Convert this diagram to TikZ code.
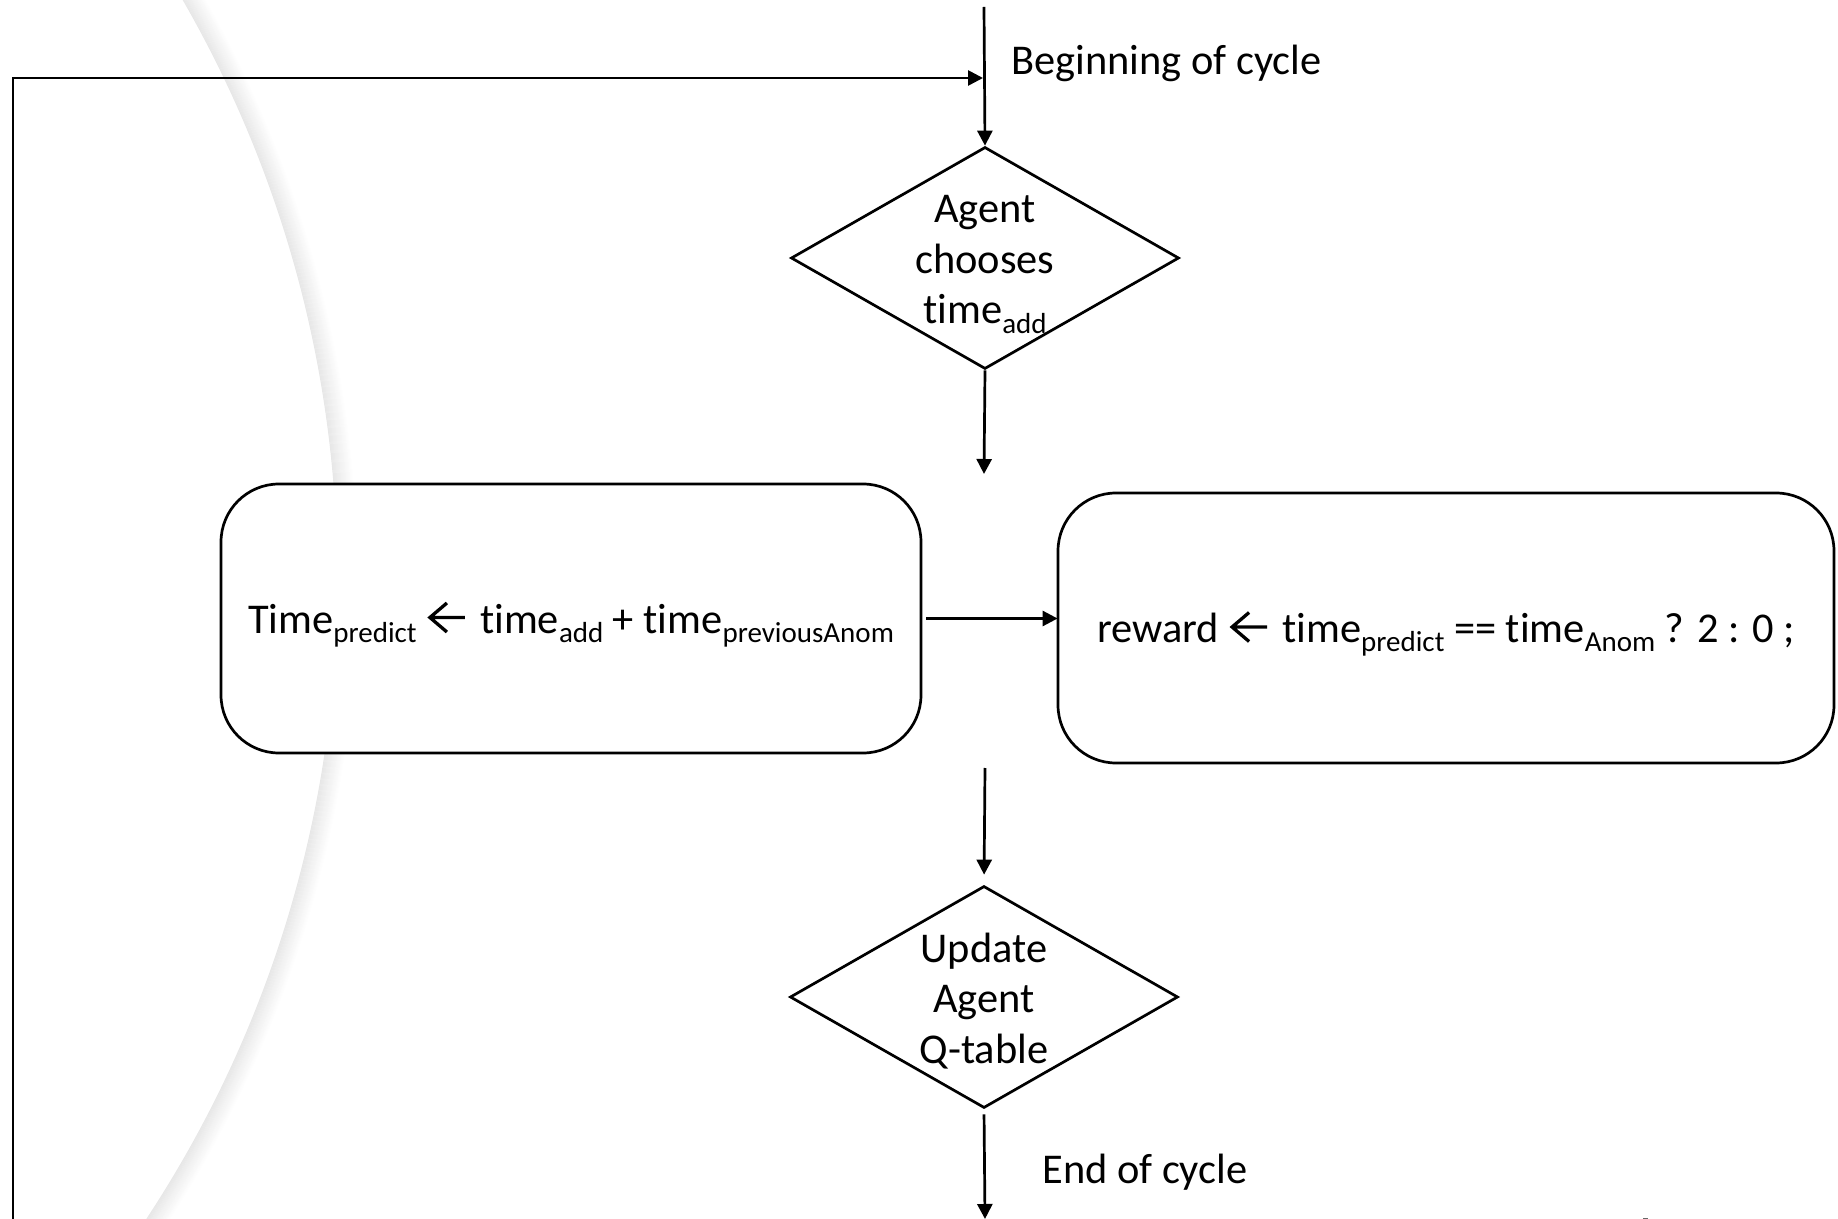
\documentclass[tikz,border=0pt]{standalone}
\usepackage{fontspec}
\setmainfont{Carlito}[Ligatures={NoCommon,NoContextual},Contextuals=NoAlternate]
\usetikzlibrary{arrows.meta,shapes.geometric}

% lowered index text, as used for the time variables
\newcommand\lowidx[1]{\raisebox{-4.6pt}{\fontsize{14.5pt}{14.5pt}\selectfont #1}}
% assignment arrow with an open chevron head
\newcommand\getsarrow{\hspace{1pt}\begin{tikzpicture}[x=1pt,y=1pt,baseline=0pt,
    sharp corners,line width=1.65pt,line cap=butt,line join=miter]
  \draw (17.5,7.75) -- (0,7.75) (8.5,15) -- (0,7.75) -- (8.5,0.5);
\end{tikzpicture}\hspace{2pt}}

\begin{document}
\begin{tikzpicture}[x=0.5pt,y=-0.5pt,line width=1.35pt,
  font=\fontsize{21.2pt}{25.25pt}\selectfont,
  flow/.style={-{Triangle[length=7.5pt,width=7.5pt]}},
  stepbox/.style={draw,fill=white,rounded corners=29pt,inner sep=0pt,
    text height=14.5pt,text depth=0pt},
  decision/.style={draw,diamond,fill=white,inner sep=0pt,
    minimum width=194pt,minimum height=111pt},
  dtext/.style={align=center,inner sep=0pt},
  note/.style={anchor=base west,inner sep=0pt}]

\useasboundingbox (0,0) rectangle (1838,1219);

% soft grey arc in the background: sharp inner edge, fading outwards
\begin{scope}
  \clip (0,0) rectangle (1838,1219);
  \foreach \i in {0,...,19}{
    \pgfmathsetmacro\rad{1163.5+\i}
    \pgfmathsetmacro\shade{9.5-0.48*\i}
    \draw[line width=0.6pt,draw=black!\shade] (-825.5,580) circle[radius=\rad];
  }
\end{scope}

% loop-back coordinates and free ends
\coordinate (entry) at (984,7);
\coordinate (loopLow) at (13,1219);
\coordinate (joint) at (983,78);
\coordinate (gapA) at (984,474);
\coordinate (gapB) at (985,768);
\coordinate (exit) at (985,1219);

% decisions
\node[decision] (choose) at (985,258) {};
\node[dtext] (chooseText) at (985,264.5) {Agent\\chooses\\time\lowidx{add}};
\node[decision] (update) at (984,997) {};
\node[dtext] (updateText) at (984,1001) {Update\\Agent\\Q-table};

% process steps
\node[stepbox,minimum width=350pt,minimum height=134.5pt] (predict) at (571,618.5)
  {Time\lowidx{predict} \getsarrow{} time\lowidx{add} + time\lowidx{previousAnom}};
\node[stepbox,minimum width=388pt,minimum height=135pt] (reward) at (1446,628)
  {reward \getsarrow{} time\lowidx{predict} == time\lowidx{Anom} ? 2 : 0 ;};

% labels
\node[note] (beginLabel) at (1010,75) {Beginning of cycle};
\node[note] (endLabel) at (1041,1183) {End of cycle};

% connectors
\draw[flow] (entry) -- (choose.north);
\draw[flow] (loopLow) |- (joint);
\draw[flow] (choose.south) -- (gapA);
\draw[flow,shorten <=2.5pt] (predict.east) -- (predict.east -| reward.west);
\draw[flow,shorten >=5pt] (gapB) -- (update.north);
\draw[flow,shorten <=2.5pt] (update.south) -- (exit);

% small mark at the lower edge
\fill[black!60] (1643,1217.5) rectangle (1648,1219);
\end{tikzpicture}
\end{document}
